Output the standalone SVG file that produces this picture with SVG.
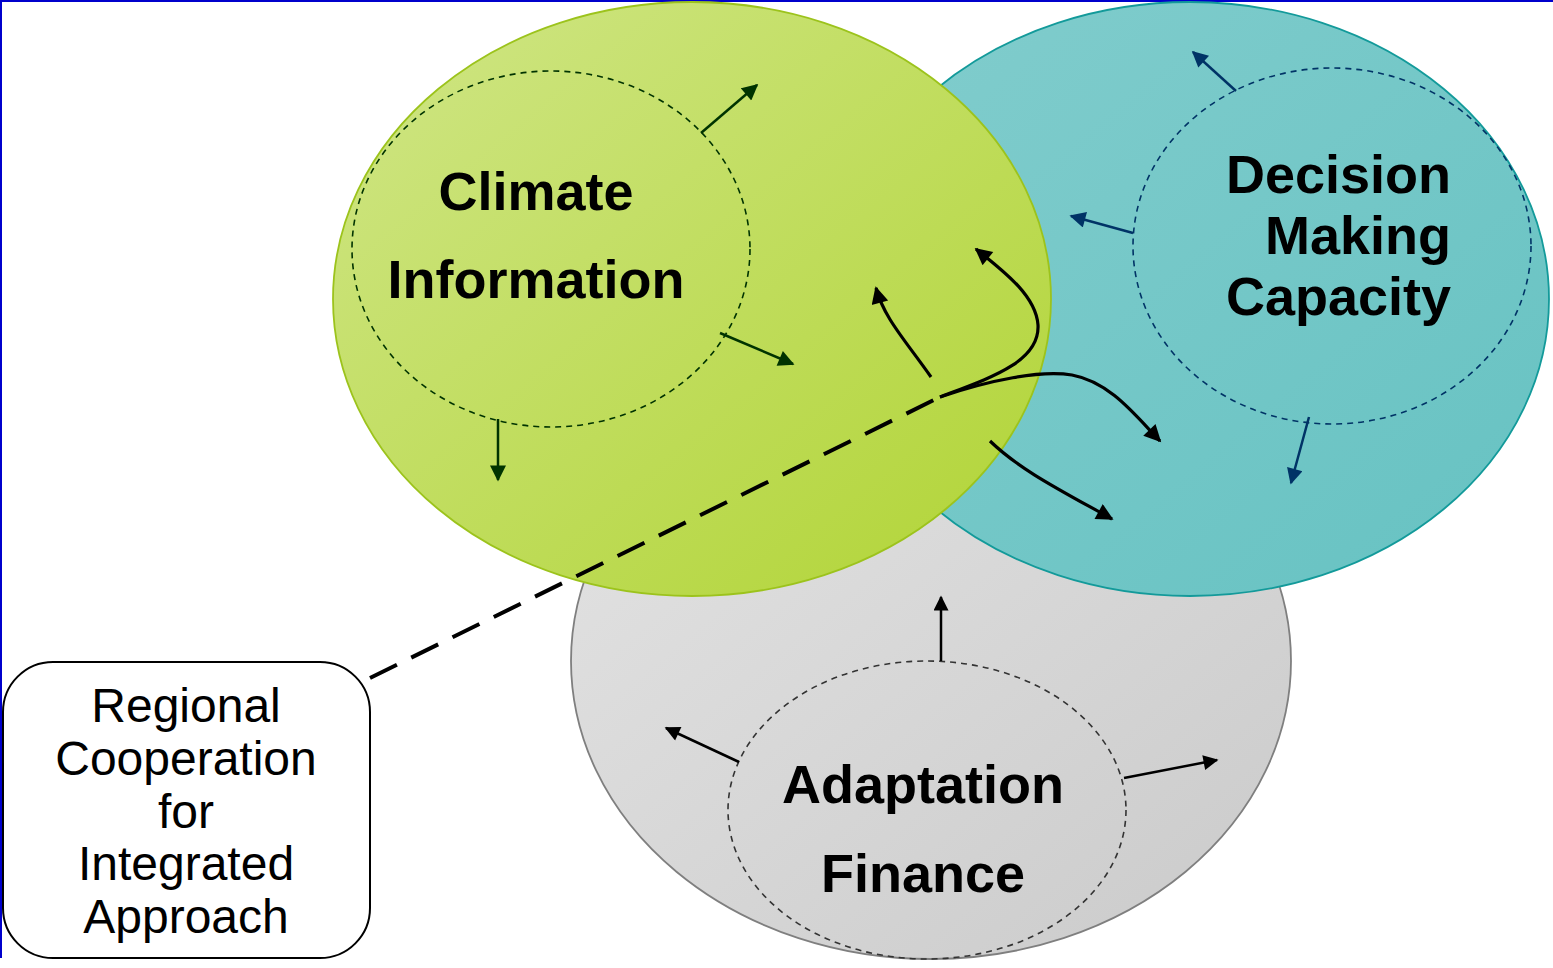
<svg xmlns="http://www.w3.org/2000/svg" width="1553" height="968" viewBox="0 0 1553 968">
<style>
.big{font-family:"Liberation Sans",Arial,sans-serif;font-weight:bold;font-size:54px;fill:#000}
.reg{font-family:"Liberation Sans",Arial,sans-serif;font-size:48px;fill:#000;text-anchor:middle}
.dg{fill:none;stroke:#003300;stroke-width:1.6;stroke-dasharray:6 5}
.dn{fill:none;stroke:#003366;stroke-width:1.6;stroke-dasharray:6 5}
.dk{fill:none;stroke:#333;stroke-width:1.6;stroke-dasharray:6 5}
.ag{stroke:#003300;stroke-width:2.5;fill:none}
.an{stroke:#003366;stroke-width:2.5;fill:none}
.ak{stroke:#000;stroke-width:2.5;fill:none}
.cv{stroke:#000;stroke-width:3.2;fill:none}
</style>
<defs>
<linearGradient id="gG" x1="0" y1="0" x2="1" y2="1"><stop offset="0" stop-color="#d0e687"/><stop offset="1" stop-color="#b1d435"/></linearGradient>
<linearGradient id="gT" x1="0" y1="0" x2="1" y2="1"><stop offset="0" stop-color="#82cdcd"/><stop offset="1" stop-color="#66c2c2"/></linearGradient>
<linearGradient id="gK" x1="0" y1="0" x2="1" y2="1"><stop offset="0" stop-color="#e4e4e4"/><stop offset="1" stop-color="#cacaca"/></linearGradient>
<marker id="mG" viewBox="0 0 10 10" refX="9" refY="5" markerUnits="userSpaceOnUse" markerWidth="18" markerHeight="16" orient="auto"><path d="M0,0 L10,5 L0,10 z" fill="#003300"/></marker>
<marker id="mN" viewBox="0 0 10 10" refX="9" refY="5" markerUnits="userSpaceOnUse" markerWidth="18" markerHeight="16" orient="auto"><path d="M0,0 L10,5 L0,10 z" fill="#003366"/></marker>
<marker id="mK" viewBox="0 0 10 10" refX="9" refY="5" markerUnits="userSpaceOnUse" markerWidth="17" markerHeight="15" orient="auto"><path d="M0,0 L10,5 L0,10 z" fill="#000"/></marker>
<marker id="mB" viewBox="0 0 10 10" refX="9" refY="5" markerUnits="userSpaceOnUse" markerWidth="21" markerHeight="17" orient="auto"><path d="M0,0 L10,5 L0,10 z" fill="#000"/></marker>
</defs>
<rect width="1553" height="968" fill="#fff"/>
<line x1="0" y1="1" x2="1553" y2="1" stroke="#0000cc" stroke-width="2"/>
<line x1="1" y1="0" x2="1" y2="958" stroke="#0000cc" stroke-width="2"/>

<g id="adaptation-finance">
<ellipse cx="931" cy="661" rx="360" ry="298" fill="url(#gK)" stroke="#7f7f7f" stroke-width="1.8"/>
</g>
<g id="decision-making">
<ellipse cx="1190" cy="299" rx="359" ry="297" fill="url(#gT)" stroke="#139a9a" stroke-width="1.8"/>
</g>
<g id="climate-information">
<ellipse cx="692" cy="299" rx="359" ry="297" fill="url(#gG)" stroke="#9cc31c" stroke-width="1.8"/>
</g>

<g id="climate-core">
<ellipse class="dg" cx="551" cy="249" rx="199" ry="178"/>
<text class="big" x="536" y="210" text-anchor="middle">Climate</text>
<text class="big" x="536" y="298" text-anchor="middle">Information</text>
</g>
<g id="decision-core">
<ellipse class="dn" cx="1332" cy="246" rx="199" ry="178"/>
<text class="big" x="1451" y="193" text-anchor="end">Decision</text>
<text class="big" x="1451" y="254" text-anchor="end">Making</text>
<text class="big" x="1451" y="315" text-anchor="end">Capacity</text>
</g>
<g id="finance-core">
<ellipse class="dk" cx="927" cy="810" rx="199" ry="149"/>
<text class="big" x="923" y="803" text-anchor="middle">Adaptation</text>
<text class="big" x="923" y="892" text-anchor="middle">Finance</text>
</g>

<g id="regional-cooperation">
<rect x="3" y="662" width="367" height="296" rx="50" ry="50" fill="#fff" stroke="#000" stroke-width="2"/>
<text class="reg" x="186" y="722">Regional</text>
<text class="reg" x="186" y="775">Cooperation</text>
<text class="reg" x="186" y="828">for</text>
<text class="reg" x="186" y="880">Integrated</text>
<text class="reg" x="186" y="933">Approach</text>
</g>

<g id="connectors">
<line class="ag" x1="701" y1="133" x2="757" y2="85" marker-end="url(#mG)"/>
<line class="ag" x1="720" y1="333" x2="793" y2="364" marker-end="url(#mG)"/>
<line class="ag" x1="498" y1="419" x2="498" y2="480" marker-end="url(#mG)"/>
<line class="an" x1="1236" y1="91" x2="1193" y2="52" marker-end="url(#mN)"/>
<line class="an" x1="1133" y1="233" x2="1071" y2="216" marker-end="url(#mN)"/>
<line class="an" x1="1309" y1="417" x2="1291" y2="483" marker-end="url(#mN)"/>
<line class="ak" x1="941" y1="661" x2="941" y2="597" marker-end="url(#mK)"/>
<line class="ak" x1="739" y1="762" x2="666" y2="728" marker-end="url(#mK)"/>
<line class="ak" x1="1124" y1="778" x2="1217" y2="760" marker-end="url(#mK)"/>
<line x1="370" y1="678" x2="940" y2="397" stroke="#000" stroke-width="4" stroke-dasharray="30 16"/>
<path class="cv" d="M940,397 C990,378 1040,362 1038,325 C1036,295 1002,270 976,249" marker-end="url(#mB)"/>
<path class="cv" d="M940,397 C990,380 1040,370 1072,375 C1110,382 1135,415 1160,441" marker-end="url(#mB)"/>
<path class="cv" d="M931,377 C905,340 884,318 876,288" marker-end="url(#mB)"/>
<path class="cv" d="M990,441 C1020,470 1060,490 1112,519" marker-end="url(#mB)"/>
</g>
</svg>
